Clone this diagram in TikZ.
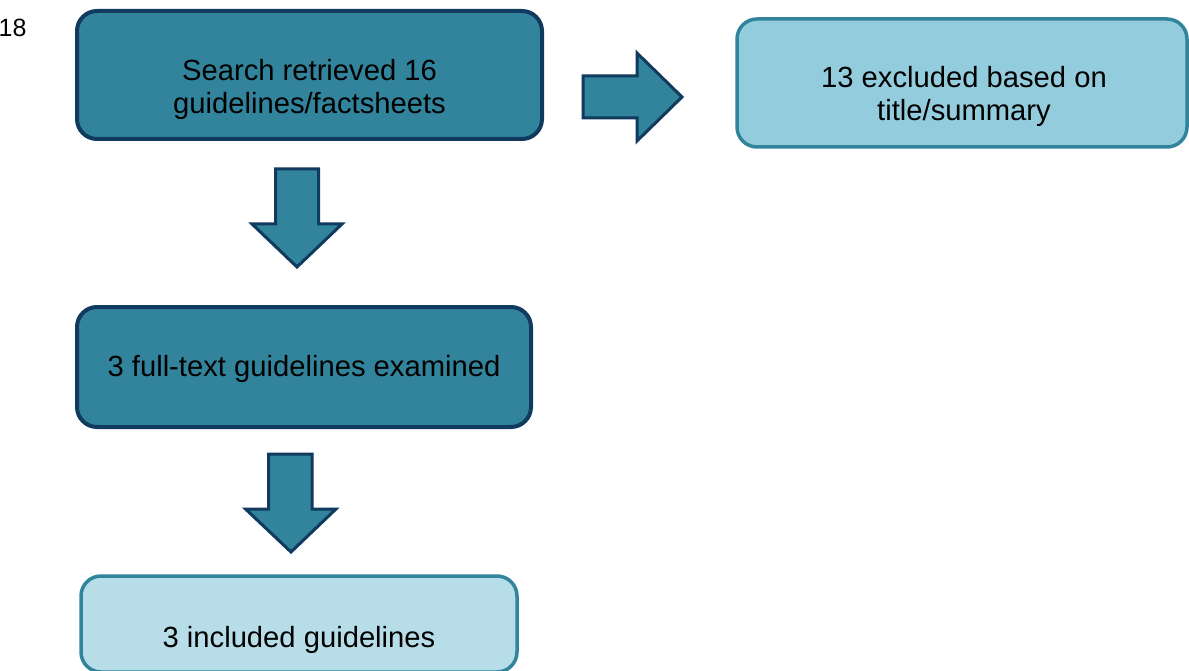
\documentclass[tikz,border=0pt]{standalone}
\usepackage{fontspec}
\setmainfont{Liberation Sans}
\definecolor{teal1}{RGB}{49,132,155}
\definecolor{navy1}{RGB}{16,58,94}
\definecolor{light1}{RGB}{147,205,221}
\definecolor{light2}{RGB}{183,222,232}
\tikzset{
  darkbox/.style={draw=navy1, fill=teal1, line width=4pt, rounded corners=20pt, inner sep=0pt},
  lightbox/.style={draw=teal1, fill=light1, line width=3.5pt, rounded corners=20pt, inner sep=0pt},
  palebox/.style={draw=teal1, fill=light2, line width=3.5pt, rounded corners=20pt, inner sep=0pt},
  blockarrow/.style={draw=navy1, fill=teal1, line width=3pt, line join=miter},
  txt/.style={font=\fontsize{29.2}{33}\selectfont, align=center, inner sep=0pt, anchor=base, text=black},
}
\begin{document}
\begin{tikzpicture}[x=1pt,y=-1pt]
\path[use as bounding box] (0,0) rectangle (1189,671);
\clip (0,0) rectangle (1189,671);
% label at top left
\node[font=\fontsize{25}{30}\selectfont, anchor=base west, inner sep=0pt] (num) at (-1.5,37) {18};
% boxes
\node[darkbox, minimum width=465pt, minimum height=128pt] (search) at (309.5,75) {};
\node[lightbox, minimum width=450pt, minimum height=128pt] (excl) at (962,83) {};
\node[darkbox, minimum width=454pt, minimum height=120pt] (full) at (304,367) {};
\node[palebox, minimum width=436pt, minimum height=96pt] (incl) at (299,624) {};
% texts (base anchor = last line baseline)
\node[txt] (searchT) at (309.5,114) {Search retrieved 16\\guidelines/factsheets};
\node[txt] (exclT) at (964,121) {13 excluded based on\\title/summary};
\node[txt] (fullT) at (304,376) {3 full-text guidelines examined};
\node[txt] (inclT) at (299,647) {3 included guidelines};
% block arrows
\draw[blockarrow] (583,76) -- (637,76) -- (637,53) -- (682,97) -- (637,141) -- (637,118) -- (583,118) -- cycle;
\draw[blockarrow] (275.5,169) -- (318.5,169) -- (318.5,224) -- (342,224) -- (297,267) -- (252,224) -- (275.5,224) -- cycle;
\draw[blockarrow] (268.5,454) -- (312,454) -- (312,509) -- (336,509) -- (291,552) -- (245.5,509) -- (268.5,509) -- cycle;
\end{tikzpicture}
\end{document}
